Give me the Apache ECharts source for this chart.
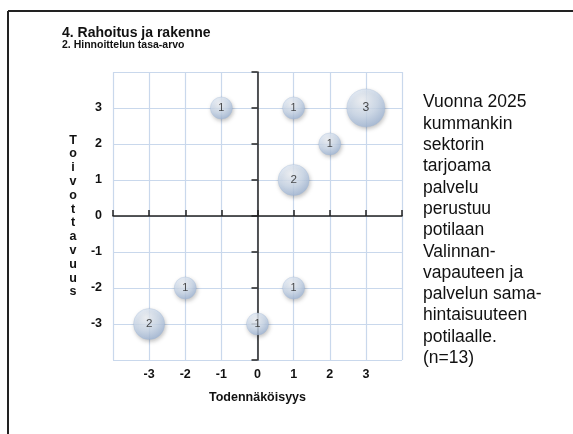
<!DOCTYPE html>
<html>
<head>
<meta charset="utf-8">
<script src="https://cdn.jsdelivr.net/npm/echarts@6/dist/echarts.min.js"></script>
<style>
  html, body { margin: 0; padding: 0; background: #fff; }
  #main { width: 573px; height: 434px; }
</style>
</head>
<body>
<div id="main"></div>
<script>
// bubbles: [todennäköisyys, toivottavuus, vastaajia]
const xValues = [-1, 1, 3, 2, 1, -2, 1, -3, 0]
const yValues = [3, 3, 3, 2, 1, -2, -2, -3, -3]
const counts = [1, 1, 3, 1, 2, 1, 1, 2, 1]
const tickLabels = [-3, -2, -1, 0, 1, 2, 3]
const sideText = [
  'Vuonna 2025', 'kummankin', 'sektorin', 'tarjoama', 'palvelu',
  'perustuu', 'potilaan', 'Valinnan-', 'vapauteen ja', 'palvelun sama-',
  'hintaisuuteen', 'potilaalle.', '(n=13)'
]

const chart = echarts.init(document.getElementById('main'))
const font = 'Liberation Sans, Arial, sans-serif'
const gridColor = '#c9d8ec'

const bubbleColor = new echarts.graphic.RadialGradient(0.4, 0.3, 0.75, [
  { offset: 0, color: '#f4f7fc' },
  { offset: 0.55, color: '#ccdaec' },
  { offset: 1, color: '#9cb3d4' }
])

const labelFmt = v => tickLabels.indexOf(v) >= 0 ? String(v) : ''

const option = {
  animation: false,
  grid: { left: 113, right: 171, top: 72, bottom: 74 },
  xAxis: [
    {
      type: 'value', min: -4, max: 4, interval: 1,
      position: 'bottom',
      axisLine: { show: false }, axisTick: { show: false },
      splitLine: { lineStyle: { color: gridColor, width: 1.2 } },
      axisLabel: { formatter: labelFmt, color: '#111', fontWeight: 'bold', fontSize: 12.5, fontFamily: font, margin: 8 },
      name: 'Todennäköisyys', nameLocation: 'middle', nameGap: 31,
      nameTextStyle: { color: '#111', fontWeight: 'bold', fontSize: 12.5, fontFamily: font }
    },
    {
      type: 'value', min: -4, max: 4, interval: 1,
      axisLine: { onZero: true, lineStyle: { color: '#222', width: 1.5 } },
      axisTick: { length: 6, lineStyle: { color: '#222', width: 1.5 } },
      axisLabel: { show: false }, splitLine: { show: false }
    }
  ],
  yAxis: [
    {
      type: 'value', min: -4, max: 4, interval: 1,
      position: 'left',
      axisLine: { show: false }, axisTick: { show: false },
      splitLine: { lineStyle: { color: gridColor, width: 1.2 } },
      axisLabel: { formatter: labelFmt, color: '#111', fontWeight: 'bold', fontSize: 12.5, fontFamily: font, margin: 11 },
      name: 'Toivottavuus'.split('').join('\n'), nameLocation: 'middle', nameRotate: 0, nameGap: 40,
      nameTextStyle: { color: '#111', fontWeight: 'bold', fontSize: 12.5, fontFamily: font, align: 'center', lineHeight: 13.8 }
    },
    {
      type: 'value', min: -4, max: 4, interval: 1,
      axisLine: { onZero: true, lineStyle: { color: '#222', width: 1.5 } },
      axisTick: { inside: true, length: 6, lineStyle: { color: '#222', width: 1.5 } },
      axisLabel: { show: false }, splitLine: { show: false }
    }
  ],
  series: [{
    type: 'scatter',
    data: xValues.map((x, i) => [x, yValues[i], counts[i]]),
    symbolSize: d => Math.sqrt(d[2]) * 22,
    itemStyle: {
      color: bubbleColor,
      borderColor: 'rgba(150,175,210,0.6)', borderWidth: 0.5,
      shadowColor: 'rgba(0,0,0,0.3)', shadowBlur: 4, shadowOffsetX: 1, shadowOffsetY: 2
    },
    label: {
      show: true, position: 'inside',
      formatter: p => p.value[2],
      color: '#222', fontFamily: font,
      fontSize: 10
    },
    labelLayout: p => ({ fontSize: 9 + p.rect.width / 12 }),
    z: 5
  }],
  graphic: [
    { type: 'line', shape: { x1: 8, y1: 11, x2: 573, y2: 11 }, style: { stroke: '#222', lineWidth: 2 } },
    { type: 'line', shape: { x1: 8, y1: 11, x2: 8, y2: 434 }, style: { stroke: '#222', lineWidth: 2 } },
    { type: 'text', left: 62, top: 26, style: { text: '4. Rahoitus ja rakenne', font: 'bold 14px ' + font, fill: '#111' } },
    { type: 'text', left: 62, top: 40, style: { text: '2. Hinnoittelun tasa-arvo', font: 'bold 10.5px ' + font, fill: '#111' } },
    { type: 'text', left: 423, top: 92, style: { text: sideText.join('\n'), font: '17.5px ' + font, lineHeight: 21.3, fill: '#111' } }
  ]
}

chart.setOption(option)
window.addEventListener('resize', () => chart.resize())
</script>
</body>
</html>
